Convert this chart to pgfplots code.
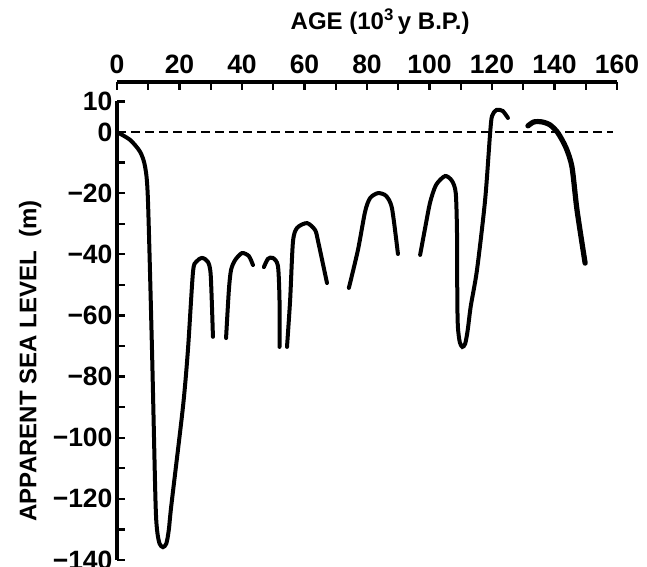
\documentclass[border=0pt]{standalone}
\usepackage{fontspec}
\setmainfont{Liberation Sans}
\usepackage{pgfplots}
\pgfplotsset{compat=1.18}

\begin{document}
\begin{tikzpicture}
\begin{axis}[
  scale only axis, width=500pt, height=478pt,
  xmin=0, xmax=160, ymin=-140, ymax=16.36,
  axis x line=top, axis y line=left,
  axis line style={line width=3.2pt, -},
  y axis line style={shorten >=19pt},
  tick align=inside,
  major tick length=8pt,
  every tick/.style={black, line width=2.4pt},
  xtick={0,10,...,160},
  xticklabels={0,,20,,40,,60,,80,,100,,120,,140,,160},
  ytick={-140,-130,...,10},
  yticklabels={−140,,−120,,−100,,−80,,−60,,−40,,−20,,0,10},
  ticklabel style={font=\fontsize{26.5}{30}\selectfont\bfseries},
  xticklabel style={yshift=5pt},
  yticklabel style={xshift=-1pt},
  clip=false,
]
% sea level reference
\addplot[black, line width=2.2pt, dash pattern=on 9pt off 5pt] coordinates {(0,0) (158.7,0)};

\addplot[black, line width=4pt, line cap=round, smooth, tension=0.45] coordinates {
  (0,0) (4.2,-2.6) (7.4,-6.5) (9.0,-11.4) (9.9,-22.2) (11.2,-71.3)
  (12.3,-120) (12.8,-130) (13.6,-134.6) (14.7,-135.8) (15.8,-134.6)
  (16.6,-130) (17.4,-122)
  (21.1,-90) (22.7,-71.3) (24.3,-46) (25.3,-42.5) (27.2,-41.2)
  (29.1,-42.5) (30.0,-47) (30.7,-67)
};
\addplot[black, line width=4pt, line cap=round, smooth, tension=0.45] coordinates {
  (34.9,-67.4) (35.8,-51.7) (36.5,-45.1) (37.8,-41.9) (40.0,-39.6)
  (42.2,-40.6) (43.5,-43.5)
};
\addplot[black, line width=4pt, line cap=round, smooth, tension=0.45] coordinates {
  (47.0,-44.2) (48.3,-41.5) (49.9,-41.2) (51.5,-43.8) (52.0,-55) (52.0,-70.3)
};
\addplot[black, line width=4pt, line cap=round, smooth, tension=0.45] coordinates {
  (54.4,-70.3) (55.4,-55) (56.3,-36) (57.6,-31.4) (60.8,-29.8)
  (63.4,-32.1) (64.4,-36) (67.2,-49.4)
};
\addplot[black, line width=4pt, line cap=round, smooth, tension=0.45] coordinates {
  (74.2,-51) (77.1,-38.6) (79.4,-26) (81.0,-21.6) (83.5,-20)
  (86.1,-20.9) (88.0,-25) (89.9,-39.9)
};
\addplot[black, line width=4pt, line cap=round, smooth, tension=0.45] coordinates {
  (97.0,-40.2) (98.6,-31.4) (100.2,-23) (102.1,-17.3) (105.0,-14.4)
  (107.2,-16) (108.4,-20) (108.8,-33) (108.9,-55) (109.1,-64)
  (109.7,-68.8) (110.5,-70.3) (111.4,-69.3) (112.2,-65) (113.2,-57)
  (115.2,-45.1) (117.8,-22.2)
  (119.4,-0.3) (120.0,5.2) (121.4,7.2) (123.4,6.9) (125.1,4.6)
};
\addplot[black, line width=5.2pt, line cap=round, smooth, tension=0.45] coordinates {
  (131.5,2) (133.4,3.3) (136.0,3.3) (138.6,2.3) (141.1,-0.3)
  (143.7,-5.2) (145.6,-11.5) (147.2,-25.5) (149.8,-42.9)
};

\node[font=\fontsize{24}{28}\selectfont\bfseries] at (axis cs:84.2,36.0)
  {AGE (10\textsuperscript{3}\,y B.P.)};
\node[rotate=90, font=\fontsize{24}{28}\selectfont\bfseries] at (axis cs:-27.8,-74.9)
  {APPARENT SEA LEVEL\ \ (m)};

\coordinate (bbsw) at (axis cs:-37.44,-141.97);
\coordinate (bbne) at (axis cs:169.6,43.18);
\end{axis}
\pgfresetboundingbox
\useasboundingbox (bbsw) rectangle (bbne);
\end{tikzpicture}
\end{document}
